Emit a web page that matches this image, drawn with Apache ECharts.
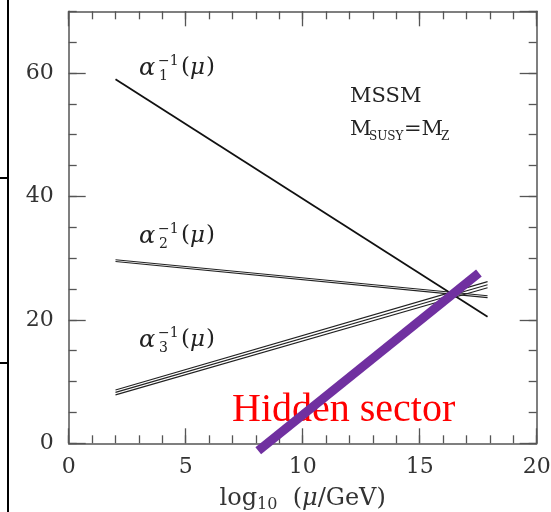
<!DOCTYPE html>
<html>
<head>
<meta charset="utf-8">
<script src="https://cdn.jsdelivr.net/npm/echarts@6/dist/echarts.min.js"></script>
<style>html,body{margin:0;padding:0;background:#fff}#c{width:551px;height:512px}</style>
</head>
<body>
<div id="c"></div>
<script>
// Data (x = log10(mu/GeV), y = alpha^-1)
var alpha1 = [[2, 59.0], [17.9, 20.5]];
var alpha2a = [[2, 29.75], [17.9, 23.9]];
var alpha2b = [[2, 29.45], [17.9, 23.6]];
var alpha3a = [[2, 8.65], [17.9, 26.2]];
var alpha3b = [[2, 8.25], [17.9, 25.7]];
var alpha3c = [[2, 7.85], [17.9, 25.2]];
var hidden = [[8.1, -1.2], [17.53, 27.6]];
var xTicks = [0, 5, 10, 15, 20];
var yTicks = [0, 20, 40, 60];

var SERIF = 'DejaVu Serif';
var AX = '#555';

function xAx(pos, interval, len, labels, line) {
  return {
    type: 'value', position: pos, min: 0, max: 20, interval: interval,
    axisLine: {show: line, onZero: false, lineStyle: {color: AX, width: 1.5}},
    axisTick: {show: true, inside: true, length: len, lineStyle: {color: AX, width: 1.3}},
    axisLabel: {show: labels, fontFamily: SERIF, fontSize: 22, color: '#333', margin: 13,
      formatter: function (v) { return xTicks.indexOf(v) >= 0 ? String(v) : ''; }},
    splitLine: {show: false}
  };
}
function yAx(pos, interval, len, labels, line) {
  return {
    type: 'value', position: pos, min: 0, max: 70, interval: interval,
    axisLine: {show: line, onZero: false, lineStyle: {color: AX, width: 1.5}},
    axisTick: {show: true, inside: true, length: len, lineStyle: {color: AX, width: 1.3}},
    axisLabel: {show: labels, fontFamily: SERIF, fontSize: 22, color: '#333', margin: 15, showMaxLabel: false,
      formatter: function (v) { return yTicks.indexOf(v) >= 0 ? String(v) : ''; }},
    splitLine: {show: false}
  };
}

var xAxes = [xAx('bottom', 5, 15, true, true), xAx('bottom', 1, 8, false, false),
             xAx('top', 5, 15, false, true), xAx('top', 1, 8, false, false)];
xAxes[0].name = '{a|log}{s|10}{a|  (}{i|μ}{a|/GeV)}';
xAxes[0].nameLocation = 'middle';
xAxes[0].nameGap = 41;
xAxes[0].nameTextStyle = {rich: {
  a: {fontFamily: SERIF, fontSize: 24, color: '#333'},
  i: {fontFamily: SERIF, fontSize: 24, fontStyle: 'italic', color: '#333'},
  s: {fontFamily: SERIF, fontSize: 16, color: '#333', padding: [13, 0, 0, 0]}
}};
var yAxes = [yAx('left', 20, 17, true, true), yAx('left', 5, 8, false, false),
             yAx('right', 20, 17, false, true), yAx('right', 5, 8, false, false)];

function ln(data, w, color, z) {
  return {type: 'line', data: data, xAxisIndex: 0, yAxisIndex: 0, symbol: 'none',
    lineStyle: {color: color, width: w}, clip: false, z: z || 2, silent: true, animation: false};
}

function alphaLabel(x, y, idx) {
  function t(dx, dy, s, size, italic) {
    return {type: 'text', x: x + dx, y: y + dy, style: {text: s, fontFamily: SERIF, fontSize: size,
      fontStyle: italic ? 'italic' : 'normal', fill: '#222', verticalAlign: 'middle', align: 'left'}};
  }
  return {type: 'group', children: [
    t(-1, 2, 'α', 24, true),
    t(18, -6, '−1', 14, false),
    t(19, 9, String(idx), 14, false),
    t(41, 0, '(', 23, false),
    t(50, 1, 'μ', 23, true),
    t(66, 0, ')', 23, false)
  ]};
}

var chart = echarts.init(document.getElementById('c'), null, {renderer: 'canvas'});
chart.setOption({
  animation: false,
  grid: {left: 68.7, right: 14.3, top: 11.3, bottom: 68.7, containLabel: false, outerBoundsMode: 'none'},
  xAxis: xAxes,
  yAxis: yAxes,
  series: [
    ln(alpha1, 1.8, '#111'),
    ln(alpha2a, 1.1, '#222'),
    ln(alpha2b, 1.1, '#222'),
    ln(alpha3a, 1.1, '#222'),
    ln(alpha3b, 1.1, '#222'),
    ln(alpha3c, 1.1, '#222'),
    ln(hidden, 9, '#7030A0', 5)
  ],
  graphic: [
    {type: 'line', shape: {x1: 8, y1: 0, x2: 8, y2: 512}, style: {stroke: '#000', lineWidth: 2}},
    {type: 'line', shape: {x1: 0, y1: 178, x2: 8, y2: 178}, style: {stroke: '#000', lineWidth: 2}},
    {type: 'line', shape: {x1: 0, y1: 363, x2: 8, y2: 363}, style: {stroke: '#000', lineWidth: 2}},
    alphaLabel(140, 67, 1),
    alphaLabel(140, 235, 2),
    alphaLabel(140, 339, 3),
    {type: 'text', x: 350, y: 97, style: {text: 'MSSM', fontFamily: SERIF, fontSize: 21, fill: '#222', verticalAlign: 'middle'}},
    {type: 'group', children: [
      {type: 'text', x: 350, y: 130, style: {text: 'M', fontFamily: SERIF, fontSize: 21, fill: '#222', verticalAlign: 'middle'}},
      {type: 'text', x: 369, y: 137, style: {text: 'SUSY', fontFamily: SERIF, fontSize: 12, fill: '#222', verticalAlign: 'middle'}},
      {type: 'text', x: 404, y: 130, style: {text: '=M', fontFamily: SERIF, fontSize: 21, fill: '#222', verticalAlign: 'middle'}},
      {type: 'text', x: 441, y: 137, style: {text: 'Z', fontFamily: SERIF, fontSize: 12, fill: '#222', verticalAlign: 'middle'}}
    ]},
    {type: 'text', x: 232, y: 410, z: 1, style: {text: 'Hidden sector', fontFamily: 'Liberation Serif', fontSize: 40,
      fill: '#ff0000', verticalAlign: 'middle', align: 'left'}}
  ]
});
</script>
</body>
</html>
